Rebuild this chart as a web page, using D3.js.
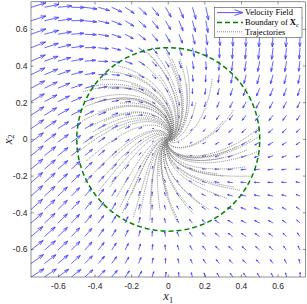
<!DOCTYPE html>
<html><head><meta charset="utf-8">
<script src="https://cdn.jsdelivr.net/npm/d3@7"></script>
<style>body{margin:0;background:#fff}</style>
</head><body><svg id="c" width="307" height="304"></svg>
<script>
// ---- data ----
const xTicks = [-0.6,-0.4,-0.2,0,0.2,0.4,0.6];
const yTicks = [-0.6,-0.4,-0.2,0,0.2,0.4,0.6];
const gridStart = -0.75, gridStep = 0.0735, gridCount = 21;
// measured velocity arrows (position, components in arrow-length px, +v up)
const sampleX = [-0.72,-0.5,-0.35,-0.2,-0.05,0.1,0.3,0.5,0.72, -0.72,-0.5,-0.3,0.3,0.5,0.72, -0.72,-0.55,0.55,0.72, -0.72,-0.6,0.6,0.72, -0.72,-0.55,0.55,0.72, -0.72,-0.5,0.5,0.72, -0.72,-0.5,-0.3,-0.15,0,0.15,0.3,0.5,0.72, 0,0, 0,0.25,0,-0.25,0.18,-0.18,-0.18,0.18];
const sampleY = [0.72,0.72,0.72,0.72,0.72,0.72,0.72,0.72,0.72, 0.5,0.5,0.55,0.55,0.5,0.5, 0.3,0.3,0.3,0.3, 0,0,0,0, -0.3,-0.3,-0.3,-0.3, -0.5,-0.5,-0.5,-0.5, -0.72,-0.72,-0.72,-0.72,-0.72,-0.72,-0.72,-0.72,-0.72, -0.6,0.6, 0.25,0,-0.25,0,0.18,-0.18,0.18,-0.18];
const sampleU = [13,13,12.5,10,6,3,0.5,0,0, 13,12.5,11,1,-0.5,-0.5, 13,12,-1.5,-1.5, 13,11,-4,-4.5, 12,10,-4,-4.5, 11.5,9,-3,-3.5, 11,8,5,2,0,-1,-1.5,-2,-2.5, 0,4, 2,-3.6,-1.8,3.6,-1,1,4,-3.6];
const sampleV = [3,0.5,-2.5,-7,-11,-12.5,-13,-13,-13, 5,2,-3,-11,-12,-12, 7,5,-9,-10, 8,7,-2,-2, 9,8,1,1, 9.5,8,3,3, 10,8.5,6,5,4.5,4,4,4,5, 4.5,-11, -3.6,-2,3.4,2.4,-3.8,3.4,-0.2,0.8];
// trajectory initial states
const startX = [-0.137,-0.109,-0.064,-0.009,0.009,0.064,0.10,-0.273,-0.319,-0.374,-0.437,-0.465,-0.428,-0.282,-0.264,-0.456,-0.492,-0.465,-0.428,-0.41,-0.41,-0.319,-0.282,-0.264,-0.191,-0.155,-0.10,-0.045,0.046,0.137,0.173,0.392,0.356,0.265,0.50,0.492,0.484,0.429,0.374,0.356,0.24,
  -0.2,-0.35,-0.3,-0.2,0,0.2,0.3,0.3,0.1,-0.05,-0.38,-0.45,-0.35,-0.1,0.1,0.3,0.42,0.45,-0.15,0.02,-0.22,-0.33,-0.4,-0.47,-0.38,-0.25,0.05,0.22,0.32,0.45,-0.12,-0.28,0.15,-0.05];
const startY = [0.492,0.47,0.46,0.47,0.415,0.437,0.397,0.40,0.369,0.324,0.284,0.26,0.215,0.215,0.197,0.178,-0.068,-0.022,0.069,0.042,-0.186,-0.259,-0.314,-0.368,-0.423,-0.404,-0.441,-0.386,-0.423,-0.404,-0.35,-0.277,-0.259,-0.186,0.069,0.014,-0.068,-0.058,-0.04,0.16,0.33,
  0.3,0.1,-0.1,-0.3,-0.3,-0.25,-0.1,0.1,0.3,0.35,0.15,-0.12,-0.2,-0.35,-0.35,-0.2,-0.15,0.0,0.42,0.44,0.36,0.28,0.2,0.1,-0.28,-0.4,-0.45,-0.38,-0.32,-0.2,0.2,0.05,0.2,-0.2];
const boundaryRadius = 0.5;
const legendLabels = ["Velocity Field","Boundary of ","Trajectories"];

// ---- field model fitted to the measured arrows ----
function basis(a,b){return [a,b,a*a,a*b,b*b,a*a*a,a*a*b,a*b*b,b*b*b];}
function fit(vals){
  const n=9, M=Array.from({length:n},()=>new Array(n).fill(0)), r=new Array(n).fill(0);
  sampleX.forEach((sx,i)=>{const p=basis(sx,sampleY[i]);for(let a=0;a<n;a++){r[a]+=p[a]*vals[i];for(let c=0;c<n;c++)M[a][c]+=p[a]*p[c];}});
  for(let a=0;a<n;a++)M[a][a]+=1e-4;
  for(let c=0;c<n;c++){let pv=c;for(let a=c+1;a<n;a++)if(Math.abs(M[a][c])>Math.abs(M[pv][c]))pv=a;
    [M[c],M[pv]]=[M[pv],M[c]];[r[c],r[pv]]=[r[pv],r[c]];
    for(let a=0;a<n;a++){if(a===c)continue;const f=M[a][c]/M[c][c];for(let k=c;k<n;k++)M[a][k]-=f*M[c][k];r[a]-=f*r[c];}}
  return r.map((v,i)=>v/M[i][i]);
}
const cu=fit(sampleU), cv=fit(sampleV);
function field(a,b){const p=basis(a,b);let u=0,v=0;for(let i=0;i<9;i++){u+=cu[i]*p[i];v+=cv[i]*p[i];}return [u,v];}

// ---- drawing ----
const svg=d3.select("#c");
const L=31,R=305.5,T=1.8,B=277;
const x=d3.scaleLinear().domain([-0.75,0.75]).range([L,R]);
const y=d3.scaleLinear().domain([-0.75,0.75]).range([B,T]);
svg.append("defs").append("clipPath").attr("id","pc").append("rect").attr("x",L).attr("y",T).attr("width",R-L).attr("height",B-T);
const plot=svg.append("g").attr("clip-path","url(#pc)");

const alpha=0.33,beta=0.33;
function arrowPath(tx,ty,du,dv){
  const hx=tx+du,hy=ty+dv;
  const h1x=hx-alpha*(du+beta*dv),h1y=hy-alpha*(dv-beta*du);
  const h2x=hx-alpha*(du-beta*dv),h2y=hy-alpha*(dv+beta*du);
  return `M${tx},${ty}L${hx},${hy}M${h1x},${h1y}L${hx},${hy}L${h2x},${h2y}`;
}
const gridVals=d3.range(gridCount).map(i=>gridStart+i*gridStep);
let qd="";
gridVals.forEach(gx=>gridVals.forEach(gy=>{
  const [u,v]=field(gx,gy);
  const du=x(gx+u/182.8)-x(gx), dv=y(gy+v/182.8)-y(gy);
  qd+=arrowPath(x(gx),y(gy),du,dv);
}));
plot.append("path").attr("d",qd).attr("fill","none").attr("stroke","#3535ff").attr("stroke-width",0.9).attr("stroke-opacity",0.85);

const circ=d3.range(0,361,2).map(a=>[boundaryRadius*Math.cos(a*Math.PI/180),boundaryRadius*Math.sin(a*Math.PI/180)]);
const line=d3.line().x(d=>x(d[0])).y(d=>y(d[1]));

// trajectories
function dir(a,b){const [u,v]=field(a,b);const m=Math.hypot(u,v)||1;return [u/m,v/m];}
const trajG=plot.append("g");
startX.forEach((sx,i)=>{
  let p=[sx,startY[i]];const pts=[p.slice()];const h=0.004;
  for(let s=0;s<600;s++){
    if(Math.hypot(p[0],p[1])<0.006)break;
    const k1=dir(p[0],p[1]),k2=dir(p[0]+h/2*k1[0],p[1]+h/2*k1[1]),k3=dir(p[0]+h/2*k2[0],p[1]+h/2*k2[1]),k4=dir(p[0]+h*k3[0],p[1]+h*k3[1]);
    p=[p[0]+h/6*(k1[0]+2*k2[0]+2*k3[0]+k4[0]),p[1]+h/6*(k1[1]+2*k2[1]+2*k3[1]+k4[1])];pts.push(p.slice());
  }
  trajG.append("path").attr("d",line(pts)).attr("fill","none").attr("stroke","#858585").attr("stroke-width",1).attr("stroke-dasharray","1,1");
});
plot.append("path").attr("d",line(circ)).attr("fill","none").attr("stroke","#008000").attr("stroke-width",1.5).attr("stroke-dasharray","5,3");

// axes box and ticks
const ax=svg.append("g");
ax.append("rect").attr("x",L).attr("y",T).attr("width",R-L).attr("height",B-T).attr("fill","none").attr("stroke","#262626").attr("stroke-width",0.5);
const tl=2.7;
xTicks.forEach(t=>{ax.append("line").attr("x1",x(t)).attr("x2",x(t)).attr("y1",B).attr("y2",B-tl).attr("stroke","#262626").attr("stroke-width",0.5);
  ax.append("line").attr("x1",x(t)).attr("x2",x(t)).attr("y1",T).attr("y2",T+tl).attr("stroke","#262626").attr("stroke-width",0.5);
  ax.append("text").attr("x",x(t)).attr("y",B+11.5).attr("text-anchor","middle").text(t===0?"0":String(t)).attr("font-family","Liberation Sans, Arial, sans-serif").attr("font-size",8.5).attr("fill","#262626");});
yTicks.forEach(t=>{ax.append("line").attr("y1",y(t)).attr("y2",y(t)).attr("x1",L).attr("x2",L+tl).attr("stroke","#262626").attr("stroke-width",0.5);
  ax.append("line").attr("y1",y(t)).attr("y2",y(t)).attr("x1",R).attr("x2",R-tl).attr("stroke","#262626").attr("stroke-width",0.5);
  ax.append("text").attr("x",L-3.5).attr("y",y(t)+3).attr("text-anchor","end").text(t===0?"0":String(t)).attr("font-family","Liberation Sans, Arial, sans-serif").attr("font-size",8.5).attr("fill","#262626");});
// axis labels
const xl=svg.append("text").attr("x",x(0)).attr("y",300).attr("text-anchor","middle").attr("font-family","Liberation Serif, serif").attr("font-size",12.5).attr("fill","#262626");
xl.append("tspan").attr("font-style","italic").text("x");xl.append("tspan").attr("font-size",8.5).attr("dy",2.5).text("1");
const yl=svg.append("text").attr("transform",`translate(11.5,${y(0)}) rotate(-90)`).attr("text-anchor","middle").attr("font-family","Liberation Serif, serif").attr("font-size",12.5).attr("fill","#262626");
yl.append("tspan").attr("font-style","italic").text("x");yl.append("tspan").attr("font-size",8.5).attr("dy",2.5).text("2");

// legend
const lg=svg.append("g");
lg.append("rect").attr("x",214.5).attr("y",7.5).attr("width",87.5).attr("height",30).attr("fill","#fff").attr("stroke","#262626").attr("stroke-width",0.5);
const ly=[12.6,22.4,31.8];
lg.append("path").attr("d",arrowPath(217,ly[0],26,0)).attr("fill","none").attr("stroke","#5555ff").attr("stroke-width",1);
lg.append("line").attr("x1",217).attr("x2",243).attr("y1",ly[1]).attr("y2",ly[1]).attr("stroke","#008000").attr("stroke-width",1.5).attr("stroke-dasharray","5,3");
lg.append("line").attr("x1",217).attr("x2",243).attr("y1",ly[2]).attr("y2",ly[2]).attr("stroke","#858585").attr("stroke-width",1).attr("stroke-dasharray","1,1");
legendLabels.forEach((s,i)=>{const t=lg.append("text").attr("x",245).attr("y",ly[i]+2.8).attr("font-family","Liberation Serif, serif").attr("font-size",8.5).attr("fill","#000").text(s);
  if(i===1){t.append("tspan").attr("font-weight","bold").text("X");t.append("tspan").attr("font-size",6).attr("dy",1.8).text("c");}});
</script></body></html>
